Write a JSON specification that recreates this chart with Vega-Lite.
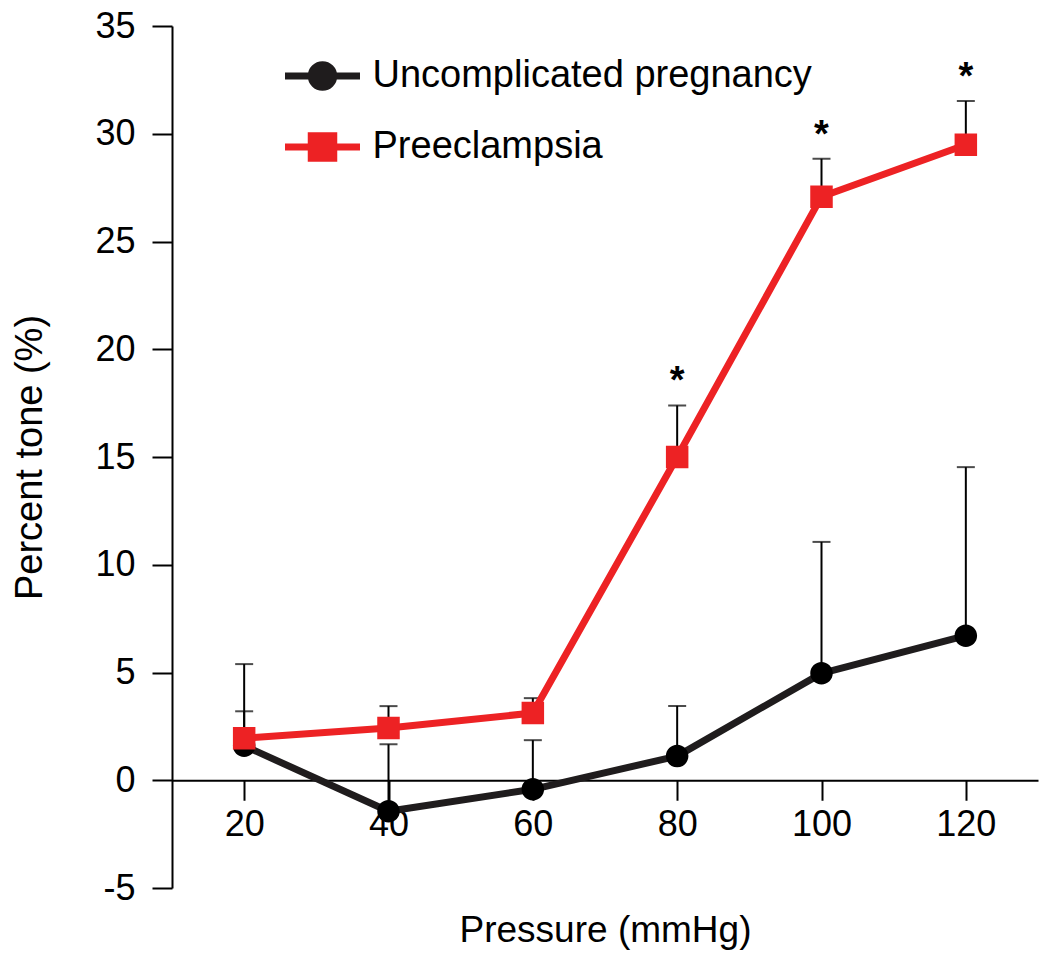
{
  "$schema": "https://vega.github.io/schema/vega-lite/v6.json",
  "width": 866,
  "height": 862,
  "autosize": {"type": "none"},
  "padding": {"left": 172, "top": 26, "right": 12, "bottom": 86},
  "background": "white",
  "config": {
    "view": {"stroke": null},
    "font": "Liberation Sans",
    "axis": {
      "domainColor": "black", "domainWidth": 2,
      "tickColor": "black", "tickWidth": 2, "tickSize": 20,
      "labelColor": "black", "labelFontSize": 36, "labelFont": "Liberation Sans",
      "titleColor": "black", "titleFontSize": 38, "titleFontWeight": "normal", "titleFont": "Liberation Sans",
      "grid": false, "labelFlush": false
    },
    "legend": {"padding": 0}
  },
  "data": {
    "values": [
      {"pressure": 20, "group": "Uncomplicated pregnancy", "tone": 1.6, "upper": 3.2, "sig": ""},
      {"pressure": 40, "group": "Uncomplicated pregnancy", "tone": -1.44, "upper": 1.67, "sig": ""},
      {"pressure": 60, "group": "Uncomplicated pregnancy", "tone": -0.42, "upper": 1.86, "sig": ""},
      {"pressure": 80, "group": "Uncomplicated pregnancy", "tone": 1.12, "upper": 3.45, "sig": ""},
      {"pressure": 100, "group": "Uncomplicated pregnancy", "tone": 4.96, "upper": 11.06, "sig": ""},
      {"pressure": 120, "group": "Uncomplicated pregnancy", "tone": 6.71, "upper": 14.53, "sig": ""},
      {"pressure": 20, "group": "Preeclampsia", "tone": 1.95, "upper": 5.39, "sig": ""},
      {"pressure": 40, "group": "Preeclampsia", "tone": 2.42, "upper": 3.44, "sig": ""},
      {"pressure": 60, "group": "Preeclampsia", "tone": 3.12, "upper": 3.81, "sig": ""},
      {"pressure": 80, "group": "Preeclampsia", "tone": 15.0, "upper": 17.39, "sig": "*"},
      {"pressure": 100, "group": "Preeclampsia", "tone": 27.08, "upper": 28.84, "sig": "*"},
      {"pressure": 120, "group": "Preeclampsia", "tone": 29.49, "upper": 31.52, "sig": "*"}
    ]
  },
  "encoding": {
    "x": {
      "field": "pressure", "type": "quantitative",
      "scale": {"domain": [10, 130], "nice": false, "zero": false},
      "axis": {"values": [20, 40, 60, 80, 100, 120], "offset": -107.75, "labelPadding": 7, "title": "Pressure (mmHg)", "titleFontSize": 37, "titlePadding": 70}
    }
  },
  "layer": [
    {
      "mark": {"type": "rule", "color": "black", "strokeWidth": 2},
      "encoding": {
        "y": {"field": "tone", "type": "quantitative", "scale": {"domain": [-5, 35], "nice": false, "zero": false},
              "axis": {"values": [-5, 0, 5, 10, 15, 20, 25, 30, 35], "labelExpr": "datum.value < 0 ? '-' + abs(datum.value) : datum.label", "labelPadding": 17, "title": "Percent tone (%)", "titlePadding": 45}},
        "y2": {"field": "upper"}
      }
    },
    {
      "mark": {"type": "tick", "orient": "horizontal", "color": "black", "size": 18, "thickness": 2},
      "encoding": {
        "y": {"field": "upper", "type": "quantitative"}
      }
    },
    {
      "mark": {"type": "line", "strokeWidth": 7, "strokeJoin": "round"},
      "encoding": {
        "y": {"field": "tone", "type": "quantitative"},
        "stroke": {
          "field": "group", "type": "nominal",
          "scale": {"domain": ["Uncomplicated pregnancy", "Preeclampsia"], "range": ["#1F1C1D", "#ED2224"]},
          "legend": {
            "orient": "none", "legendX": 131.5, "legendY": 31,
            "title": null,
            "labelFontSize": 38, "labelFont": "Liberation Sans", "labelColor": "black",
            "labelOffset": 31, "labelLimit": 0,
            "symbolSize": 900, "symbolStrokeWidth": 7, "symbolOpacity": 1,
            "rowPadding": 19
          }
        }
      }
    },
    {
      "mark": {"type": "point", "filled": true, "opacity": 1},
      "encoding": {
        "y": {"field": "tone", "type": "quantitative"},
        "color": {
          "field": "group", "type": "nominal",
          "scale": {"domain": ["Uncomplicated pregnancy", "Preeclampsia"], "range": ["#000000", "#ED2224"]},
          "legend": null
        },
        "shape": {"field": "group", "type": "nominal", "scale": {"domain": ["Uncomplicated pregnancy", "Preeclampsia"], "range": [
          "M-2.5,0H2.5M-0.233,0A0.233,0.233 0 1,0 0.233,0A0.233,0.233 0 1,0 -0.233,0ZM-0.48,0A0.48,0.48 0 1,0 0.48,0A0.48,0.48 0 1,0 -0.48,0ZM-0.75,0A0.75,0.75 0 1,0 0.75,0A0.75,0.75 0 1,0 -0.75,0Z",
          "M-2.5,0H2.5M-0.233,-0.233H0.233V0.233H-0.233ZM-0.5,-0.5H0.5V0.5H-0.5ZM-0.75,-0.75H0.75V0.75H-0.75Z"
        ]}, "legend": null},
        "size": {"field": "group", "type": "nominal", "scale": {"domain": ["Uncomplicated pregnancy", "Preeclampsia"], "range": [900, 900]}, "legend": null}
      }
    },
    {
      "transform": [{"filter": "datum.sig !== ''"}],
      "mark": {"type": "text", "color": "black", "fontSize": 38, "fontWeight": "bold", "baseline": "alphabetic", "dy": -12},
      "encoding": {
        "y": {"field": "upper", "type": "quantitative"},
        "text": {"field": "sig"}
      }
    }
  ]
}
